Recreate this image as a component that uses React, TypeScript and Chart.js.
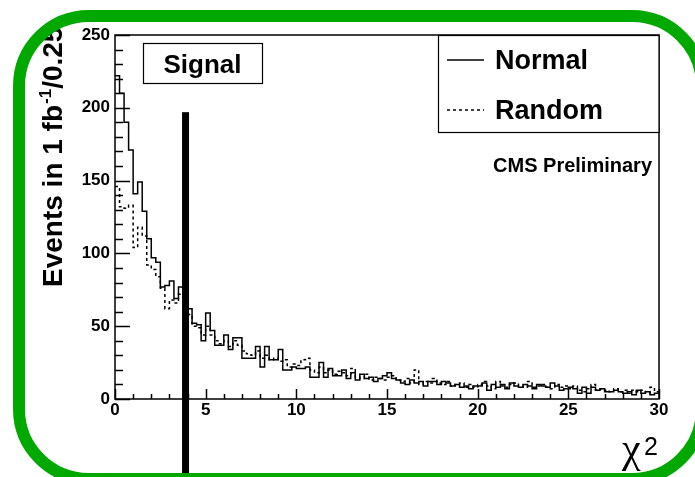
import React, { useEffect, useRef } from "react";
import { Chart, registerables } from "chart.js";

Chart.register(...registerables);

// ---- data ----
const BIN_WIDTH = 0.25;
const X_MIN = 0;
const X_MAX = 30;
const Y_MIN = 0;
const Y_MAX = 250;

const normalCounts = [
  222, 210, 190, 171, 141, 149, 129, 110, 97, 94,
  77, 78, 81, 69, 77, 65, 62, 52, 51, 40,
  59, 47, 37, 37, 44, 34, 42, 42, 28, 28,
  28, 36, 22, 36, 27, 27, 34, 20, 20, 22,
  21, 21, 22, 15, 15, 25, 15, 21, 16, 16,
  20, 14, 18, 13, 17, 14, 15, 12, 14, 16,
  18, 14, 13, 11, 10, 13, 11, 12, 9, 12,
  12, 10, 12, 11, 9, 10, 8, 9, 7, 9,
  9, 11, 6, 10, 8, 10, 7, 11, 9, 8,
  10, 9, 7, 10, 9, 8, 11, 9, 6, 7,
  8, 7, 4, 8, 4, 8, 6, 7, 5, 5,
  6, 5, 4, 5, 3, 6, 4, 5, 3, 4,
];

const randomCounts = [
  146, 132, 131, 133, 104, 118, 112, 92, 89, 84,
  76, 62, 68, 66, 72, 63, 58, 50, 49, 44,
  50, 44, 40, 38, 40, 36, 40, 37, 33, 31,
  30, 33, 28, 30, 27, 28, 26, 27, 22, 24,
  23, 27, 28, 20, 18, 22, 18, 20, 17, 19,
  18, 16, 21, 15, 14, 17, 13, 15, 14, 13,
  15, 16, 13, 12, 14, 11, 20, 10, 12, 11,
  14, 11, 10, 12, 9, 10, 11, 8, 10, 8,
  10, 12, 9, 7, 12, 9, 8, 10, 11, 9,
  8, 12, 8, 9, 10, 8, 7, 10, 8, 9,
  7, 9, 6, 5, 7, 10, 6, 7, 6, 5,
  7, 5, 6, 4, 6, 5, 6, 4, 8, 5,
];

const seriesNames = ["Normal", "Random"];
const xTickValues = [0, 5, 10, 15, 20, 25, 30];
const yTickValues = [0, 50, 100, 150, 200, 250];
const X_MINOR_STEP = 1;
const Y_MINOR_STEP = 10;

const CUT_X = 3.89;
const CUT_TOP = 197;

const signalLabel = "Signal";
const cmsLabel = "CMS Preliminary";
const yTitleMain = "Events in 1 fb";
const yTitleSup = "-1";
const yTitleEnd = "/0.25";
const xTitleMain = "\u03c7";
const xTitleSup = "2";

const SANS = "'Liberation Sans', Arial, Helvetica, sans-serif";
const SERIF = "'Liberation Serif', 'DejaVu Serif', serif";

function toSteps(counts: number[]) {
  const pts = counts.map((v, i) => ({ x: X_MIN + i * BIN_WIDTH, y: v }));
  pts.push({ x: X_MIN + counts.length * BIN_WIDTH, y: counts[counts.length - 1] });
  return pts;
}

const decorPlugin = {
  id: "decor",
  beforeDraw(chart: any) {
    const ctx = chart.ctx;
    ctx.save();
    ctx.fillStyle = "#ffffff";
    ctx.fillRect(0, 0, chart.width, chart.height);
    ctx.restore();
  },
  afterDatasetsDraw(chart: any) {
    const ctx = chart.ctx as CanvasRenderingContext2D;
    const xs = chart.scales.x;
    const ys = chart.scales.y;
    const { left, right, top, bottom } = chart.chartArea;
    ctx.save();
    ctx.strokeStyle = "#000";
    ctx.lineWidth = 1.5;
    // ticks on y axis (inward)
    for (let v = Y_MIN; v <= Y_MAX + 1e-9; v += Y_MINOR_STEP) {
      const py = Math.round(ys.getPixelForValue(v)) + 0.5;
      const len = yTickValues.includes(v) ? 15 : 8;
      ctx.beginPath();
      ctx.moveTo(left, py);
      ctx.lineTo(left + len, py);
      ctx.stroke();
    }
    // ticks on x axis (inward)
    for (let v = X_MIN; v <= X_MAX + 1e-9; v += X_MINOR_STEP) {
      const px = Math.round(xs.getPixelForValue(v)) + 0.5;
      const len = xTickValues.includes(v) ? 10 : 5;
      ctx.beginPath();
      ctx.moveTo(px, bottom);
      ctx.lineTo(px, bottom - len);
      ctx.stroke();
    }
    // frame
    ctx.strokeRect(left, top, right - left, bottom - top);

    // Signal box
    const sbx = left + 28, sby = top + 8, sbw = 119, sbh = 40;
    ctx.fillStyle = "#fff";
    ctx.fillRect(sbx, sby, sbw, sbh);
    ctx.lineWidth = 1.2;
    ctx.strokeRect(sbx + 0.5, sby + 0.5, sbw, sbh);
    ctx.fillStyle = "#000";
    ctx.font = `bold 26px ${SANS}`;
    ctx.textAlign = "center";
    ctx.textBaseline = "middle";
    ctx.fillText(signalLabel, sbx + sbw / 2, sby + sbh / 2 + 3);

    // legend box
    const lbx = right - 221, lby = top, lbw = 221, lbh = 97;
    ctx.fillStyle = "#fff";
    ctx.fillRect(lbx, lby, lbw, lbh);
    ctx.lineWidth = 1.2;
    ctx.strokeRect(lbx + 0.5, lby + 0.5, lbw - 0.5, lbh);
    ctx.fillStyle = "#000";
    ctx.font = `bold 27px ${SANS}`;
    ctx.textAlign = "left";
    ctx.textBaseline = "middle";
    const rows = [lby + 25, lby + 75];
    seriesNames.forEach((name, i) => {
      ctx.beginPath();
      ctx.lineWidth = 1.5;
      ctx.setLineDash(i === 0 ? [] : [3, 3]);
      ctx.moveTo(lbx + 9, rows[i]);
      ctx.lineTo(lbx + 46, rows[i]);
      ctx.stroke();
      ctx.setLineDash([]);
      ctx.fillText(name, lbx + 57, rows[i] + 2);
    });

    // CMS Preliminary
    ctx.font = `bold 20px ${SANS}`;
    ctx.textAlign = "right";
    ctx.fillText(cmsLabel, right - 7, top + 131);

    // cut line
    const cx = xs.getPixelForValue(CUT_X);
    const cy = ys.getPixelForValue(CUT_TOP);
    ctx.fillRect(cx - 3.5, cy, 7, chart.height - cy);

    // x title chi^2
    ctx.textAlign = "left";
    ctx.textBaseline = "alphabetic";
    ctx.font = `42px ${SERIF}`;
    ctx.fillText(xTitleMain, right - 37, bottom + 63);
    ctx.font = `25px ${SANS}`;
    ctx.fillText(xTitleSup, right - 15, bottom + 56);

    // y title
    ctx.save();
    ctx.translate(62, bottom - 112);
    ctx.rotate(-Math.PI / 2);
    ctx.font = `bold 28px ${SANS}`;
    ctx.textAlign = "left";
    ctx.textBaseline = "alphabetic";
    ctx.fillText(yTitleMain, 0, 0);
    let w = ctx.measureText(yTitleMain).width;
    ctx.font = `bold 17px ${SANS}`;
    ctx.fillText(yTitleSup, w + 1, -11);
    w += ctx.measureText(yTitleSup).width + 1;
    ctx.font = `bold 28px ${SANS}`;
    ctx.fillText(yTitleEnd, w, 0);
    ctx.restore();

    ctx.restore();
  },
  afterDraw(chart: any) {
    const ctx = chart.ctx as CanvasRenderingContext2D;
    ctx.save();
    ctx.strokeStyle = "#00a800";
    ctx.lineWidth = 12;
    ctx.beginPath();
    (ctx as any).roundRect(19, 16, 683, 463, 70);
    ctx.stroke();
    ctx.restore();
  },
};

export default function App() {
  const ref = useRef<HTMLCanvasElement | null>(null);
  useEffect(() => {
    if (!ref.current) return;
    const chart = new Chart(ref.current, {
      type: "line",
      data: {
        datasets: [
          {
            label: seriesNames[0],
            data: toSteps(normalCounts),
            borderColor: "#000",
            borderWidth: 1.5,
            pointRadius: 0,
            stepped: true,
            fill: false,
          },
          {
            label: seriesNames[1],
            data: toSteps(randomCounts),
            borderColor: "#000",
            borderWidth: 1.5,
            borderDash: [3, 3],
            pointRadius: 0,
            stepped: true,
            fill: false,
          },
        ],
      },
      options: {
        animation: false,
        responsive: false,
        devicePixelRatio: 1,
        layout: { padding: { left: 0, top: 35, right: 36, bottom: 0 } },
        plugins: { legend: { display: false }, tooltip: { enabled: false } },
        scales: {
          x: {
            type: "linear",
            min: X_MIN,
            max: X_MAX,
            grid: { display: false, drawTicks: false },
            border: { display: false },
            afterBuildTicks: (s: any) => {
              s.ticks = xTickValues.map((v) => ({ value: v }));
            },
            afterFit: (s: any) => {
              s.height = 78;
            },
            ticks: {
              padding: 1,
              color: "#000",
              maxRotation: 0,
              autoSkip: false,
              font: { family: SANS, weight: "bold", size: 17 },
            },
          },
          y: {
            type: "linear",
            min: Y_MIN,
            max: Y_MAX,
            grid: { display: false, drawTicks: false },
            border: { display: false },
            afterBuildTicks: (s: any) => {
              s.ticks = yTickValues.map((v) => ({ value: v }));
            },
            afterFit: (s: any) => {
              s.width = 115;
            },
            ticks: {
              padding: 5,
              color: "#000",
              autoSkip: false,
              font: { family: SANS, weight: "bold", size: 17 },
            },
          },
        },
      } as any,
      plugins: [decorPlugin],
    });
    return () => chart.destroy();
  }, []);
  return (
    <div style={{ position: "absolute", left: 0, top: 0, width: 695, height: 477 }}>
      <canvas ref={ref} width={695} height={477} style={{ display: "block", width: 695, height: 477 }} />
    </div>
  );
}
